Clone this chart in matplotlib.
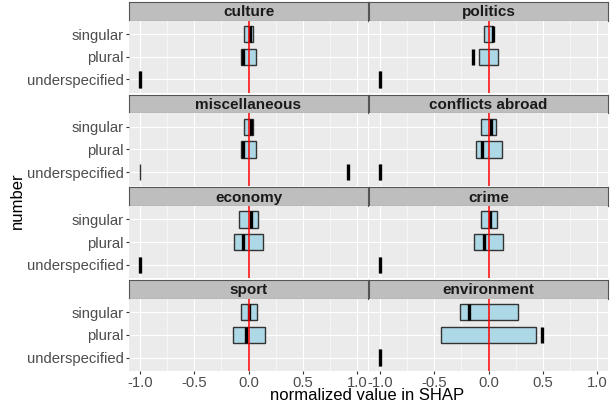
import numpy as np
import matplotlib
matplotlib.use("Agg")
import matplotlib.pyplot as plt

plt.rcParams['font.family'] = ['Liberation Sans', 'DejaVu Sans']

# facets in reading order (left, right, left, right ...)
topics = ["culture", "politics", "miscellaneous", "conflicts abroad",
          "economy", "crime", "sport", "environment"]
numbers = ["singular", "plural", "underspecified"]

# box limits per topic: [singular, plural, underspecified]
box_low = [[-0.037, -0.067, -1.0],
           [-0.046, -0.087, -1.0],
           [-0.040, -0.065, -1.0],
           [-0.068, -0.114, -1.0],
           [-0.083, -0.129, -1.0],
           [-0.067, -0.129, -1.0],
           [-0.070, -0.147, np.nan],
           [-0.260, -0.434, -1.0]]
box_high = [[0.037, 0.068, -1.0],
            [0.046, 0.089, -1.0],
            [0.040, 0.068, -1.0],
            [0.070, 0.124, -1.0],
            [0.086, 0.133, -1.0],
            [0.077, 0.135, -1.0],
            [0.074, 0.151, np.nan],
            [0.268, 0.433, -1.0]]
# thick black marks
mark = [[0.018, -0.049, -1.0],
        [0.042, -0.142, -1.0],
        [0.025, -0.052, 0.918],
        [0.021, -0.059, -1.0],
        [0.022, -0.049, -1.0],
        [0.018, -0.046, -1.0],
        [0.000, -0.021, np.nan],
        [-0.182, 0.489, -1.0]]

W, H = 616, 403
fig = plt.figure(figsize=(W / 100, H / 100), dpi=100)

col_x = [129, 369]
col_w = 239
strip_h = 18.5
panel_h = 72.5
gap = 1.7
top0 = 2

ypos = np.arange(1, len(numbers) + 1)

for i, topic in enumerate(topics):
    row, col = divmod(i, 2)
    top = top0 + row * (strip_h + panel_h + gap)
    x0 = col_x[col]
    # strip
    sax = fig.add_axes([x0 / W, 1 - (top + strip_h) / H, col_w / W, strip_h / H])
    sax.set_facecolor('#BEBEBE')
    sax.set_xticks([])
    sax.set_yticks([])
    for sp in sax.spines.values():
        sp.set_color('#555555')
        sp.set_linewidth(0.8)
    sax.text(0.5, 0.45, topic, ha='center', va='center', fontsize=11,
             fontweight='bold', color='#1A1A1A', transform=sax.transAxes)

    # panel
    ax = fig.add_axes([x0 / W, 1 - (top + strip_h + panel_h) / H, col_w / W, panel_h / H])
    ax.set_facecolor('#EBEBEB')
    for sp in ax.spines.values():
        sp.set_visible(False)
    ax.set_xlim(-1.1, 1.1)
    ax.set_ylim(3.6, 0.4)
    ax.set_xticks([-1.0, -0.5, 0.0, 0.5, 1.0])
    ax.set_xticks([-0.75, -0.25, 0.25, 0.75], minor=True)
    ax.set_yticks(ypos)
    ax.grid(which='major', color='white', lw=0.8)
    ax.grid(which='minor', axis='x', color='white', lw=0.4)
    ax.set_axisbelow(True)
    ax.tick_params(which='minor', length=0)
    ax.tick_params(which='major', length=2.5, width=0.8, color='#333333',
                   labelsize=10.7, labelcolor='#4D4D4D', pad=1.2)

    lo = np.array(box_low[i])
    hi = np.array(box_high[i])
    ax.barh(ypos, hi - lo, left=lo, height=0.72, color='#ADD8E6',
            edgecolor='#333333', linewidth=1.0, zorder=2)
    ax.vlines(mark[i], ypos - 0.36, ypos + 0.36, color='black', lw=2.4, zorder=3)
    ax.axvline(0, color='#FF0000', lw=1.1, zorder=4)

    if col == 0:
        ax.set_yticklabels(numbers)
    else:
        ax.set_yticklabels([])
        ax.tick_params(axis='y', length=0)
    if row == 3:
        ax.set_xticklabels(['-1.0', '-0.5', '0.0', '0.5', '1.0'])
    else:
        ax.set_xticklabels([])
        ax.tick_params(axis='x', length=0)

fig.text(367 / W, 1 - 396 / H, "normalized value in SHAP", ha='center', va='center',
         fontsize=12, color='black')
fig.text(17 / W, 1 - 201 / H, "number", ha='center', va='center', rotation=90,
         fontsize=12, color='black')

fig.savefig("out.png", dpi=100)
